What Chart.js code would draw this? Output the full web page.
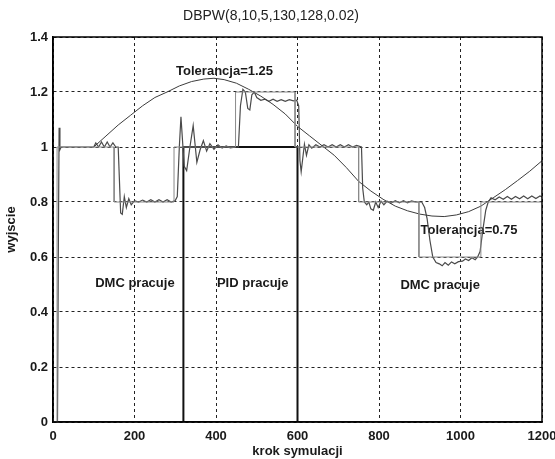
<!DOCTYPE html>
<html><head><meta charset="utf-8">
<script src="https://cdn.jsdelivr.net/npm/chart.js@4/dist/chart.umd.min.js"></script>
<style>html,body{margin:0;padding:0;background:#fff;} canvas{display:block;}</style>
</head><body>
<canvas id="c" width="555" height="459"></canvas>
<script>
const chartTitle = 'DBPW(8,10,5,130,128,0.02)';
const xAxisLabel = 'krok symulacji';
const yAxisLabel = 'wyjscie';
const xTicks = [0, 200, 400, 600, 800, 1000, 1200];
const yTicks = [0, 0.2, 0.4, 0.6, 0.8, 1, 1.2, 1.4];

// tolerance trajectory (smooth curve)
const toleranceX = [100,130,160,190,220,250,280,310,340,370,395,420,450,480,510,540,570,600,630,660,690,720,750,780,810,840,870,900,930,960,990,1020,1050,1080,1110,1140,1170,1200];
const toleranceY = [1.0,1.04,1.08,1.115,1.15,1.18,1.2,1.222,1.238,1.247,1.25,1.245,1.232,1.21,1.185,1.155,1.12,1.075,1.04,1.005,0.97,0.925,0.875,0.84,0.81,0.785,0.768,0.756,0.749,0.747,0.753,0.765,0.785,0.815,0.845,0.878,0.912,0.95];

// setpoint (steps)
const setpointX = [0,10,10,150,150,297,297,448,448,594,594,750,750,898,898,1050,1050,1200];
const setpointY = [0,0,1,1,0.8,0.8,1,1,1.2,1.2,1,1,0.8,0.8,0.6,0.6,0.8,0.8];

// process output
const outputX = [0,11,13,15,17,20,25,100,105,112,119,126,133,140,147,154,160,163,166,170,175,180,186,192,200,210,220,230,240,250,260,270,280,290,300,305,310,314,318,322,328,336,344,353,361,369,377,385,395,405,415,425,435,450,455,460,466,472,478,483,488,494,500,510,520,530,540,550,560,570,580,590,598,603,606,609,613,617,622,628,635,645,655,665,675,685,695,705,715,725,735,745,757,760,764,770,775,780,786,792,798,805,812,820,830,840,850,860,870,880,890,905,912,918,925,932,940,948,955,962,970,978,986,995,1005,1012,1020,1028,1036,1042,1048,1055,1062,1068,1075,1085,1095,1105,1115,1125,1135,1145,1155,1165,1175,1185,1195,1200];
const outputY = [0,0,0.6,1.07,0.99,1.0,1.0,1.0,1.015,1.0,1.018,1.0,1.018,1.0,1.015,1.0,1.0,0.88,0.76,0.755,0.82,0.78,0.812,0.79,0.805,0.8,0.807,0.8,0.808,0.8,0.808,0.8,0.808,0.8,0.805,0.82,1.0,1.11,1.02,0.93,0.914,1.0,1.078,0.944,0.99,1.023,0.985,1.012,0.992,1.008,0.996,1.004,0.997,1.0,1.0,1.15,1.21,1.2,1.14,1.135,1.19,1.2,1.18,1.17,1.174,1.166,1.174,1.166,1.172,1.166,1.172,1.168,1.17,1.15,0.95,0.91,0.96,1.01,0.97,1.008,0.996,1.008,1.0,1.008,1.0,1.008,1.0,1.008,1.0,1.008,1.0,1.006,1.0,0.85,0.8,0.79,0.8,0.775,0.77,0.8,0.78,0.803,0.79,0.803,0.796,0.805,0.797,0.805,0.797,0.804,0.8,0.8,0.78,0.74,0.66,0.6,0.58,0.575,0.568,0.58,0.57,0.582,0.575,0.583,0.585,0.593,0.587,0.597,0.59,0.6,0.62,0.7,0.77,0.8,0.815,0.808,0.818,0.81,0.82,0.81,0.82,0.812,0.822,0.812,0.822,0.813,0.822,0.818];

// controller switch (0 = DMC, 1 = PID)
const switchX = [0,320,320,600,600,1200];
const switchY = [0,0,1,1,0,0];

const noteTexts = ['Tolerancja=1.25','Tolerancja=0.75','DMC pracuje','PID pracuje','DMC pracuje'];
const noteX = [421, 1021, 201, 490, 950];
const noteY = [1.275, 0.696, 0.503, 0.503, 0.495];

const FONT = '"Liberation Sans", Arial, Helvetica, sans-serif';
const pts = (xs, ys) => xs.map((x, i) => ({x: x, y: ys[i]}));

const notesPlugin = {
  id: 'notes',
  beforeDatasetsDraw(chart) {
    const ctx = chart.ctx, sx = chart.scales.x, sy = chart.scales.y;
    ctx.save();
    ctx.font = 'bold 13px ' + FONT;
    ctx.fillStyle = '#1a1a1a';
    ctx.textAlign = 'center';
    ctx.textBaseline = 'middle';
    noteTexts.forEach((t, i) => ctx.fillText(t, sx.getPixelForValue(noteX[i]), sy.getPixelForValue(noteY[i])));
    ctx.restore();
  },
  afterDraw(chart) {
    const a = chart.chartArea, ctx = chart.ctx;
    ctx.save();
    ctx.strokeStyle = '#000';
    ctx.lineWidth = 1.5;
    ctx.setLineDash([]);
    ctx.strokeRect(a.left, a.top, a.right - a.left, a.bottom - a.top);
    ctx.restore();
  }
};

new Chart(document.getElementById('c'), {
  type: 'scatter',
  data: {
    datasets: [
      {data: pts(setpointX, setpointY), borderColor: '#8a8a8a', borderWidth: 1},
      {data: pts(toleranceX, toleranceY), borderColor: '#3c3c3c', borderWidth: 1},
      {data: pts(outputX, outputY), borderColor: '#4a4a4a', borderWidth: 1.2},
      {data: pts(switchX, switchY), borderColor: '#111', borderWidth: 2}
    ].map(d => Object.assign({showLine: true, pointRadius: 0, pointHoverRadius: 0, tension: 0, fill: false}, d))
  },
  options: {
    responsive: false,
    animation: false,
    devicePixelRatio: 1,
    layout: {padding: {left: 0, right: 13, top: 0, bottom: 0}},
    plugins: {
      legend: {display: false},
      tooltip: {enabled: false},
      title: {display: true, text: chartTitle, color: '#222', font: {family: FONT, size: 14, weight: 'normal'}, padding: {top: 8, bottom: 12.2}}
    },
    scales: {
      x: {
        type: 'linear', min: 0, max: 1200,
        afterBuildTicks: s => { s.ticks = xTicks.map(v => ({value: v})); },
        afterFit: s => { s.height = 37; s.paddingLeft = 0; s.paddingRight = 0; },
        ticks: {color: '#1a1a1a', font: {family: FONT, size: 13, weight: 'bold'}, padding: 7, maxRotation: 0, autoSkip: false, callback: v => String(v)},
        grid: {color: '#222', lineWidth: 1, drawTicks: false},
        border: {color: '#000', width: 1.5, dash: [3, 3]},
        title: {display: true, text: xAxisLabel, color: '#1a1a1a', font: {family: FONT, size: 13, weight: 'bold'}, padding: {top: 0, bottom: 0}}
      },
      y: {
        type: 'linear', min: 0, max: 1.4,
        afterBuildTicks: s => { s.ticks = yTicks.map(v => ({value: v})); },
        afterFit: s => { s.width = 53; s.paddingTop = 0; s.paddingBottom = 0; },
        ticks: {color: '#1a1a1a', font: {family: FONT, size: 13, weight: 'bold'}, padding: 5, callback: v => String(Math.round(v * 10) / 10)},
        grid: {color: '#222', lineWidth: 1, drawTicks: false},
        border: {color: '#000', width: 1.5, dash: [3, 3]},
        title: {display: true, text: yAxisLabel, color: '#1a1a1a', font: {family: FONT, size: 13, weight: 'bold'}, padding: {top: 4, bottom: 0}}
      }
    }
  },
  plugins: [notesPlugin]
});
</script>
</body></html>
